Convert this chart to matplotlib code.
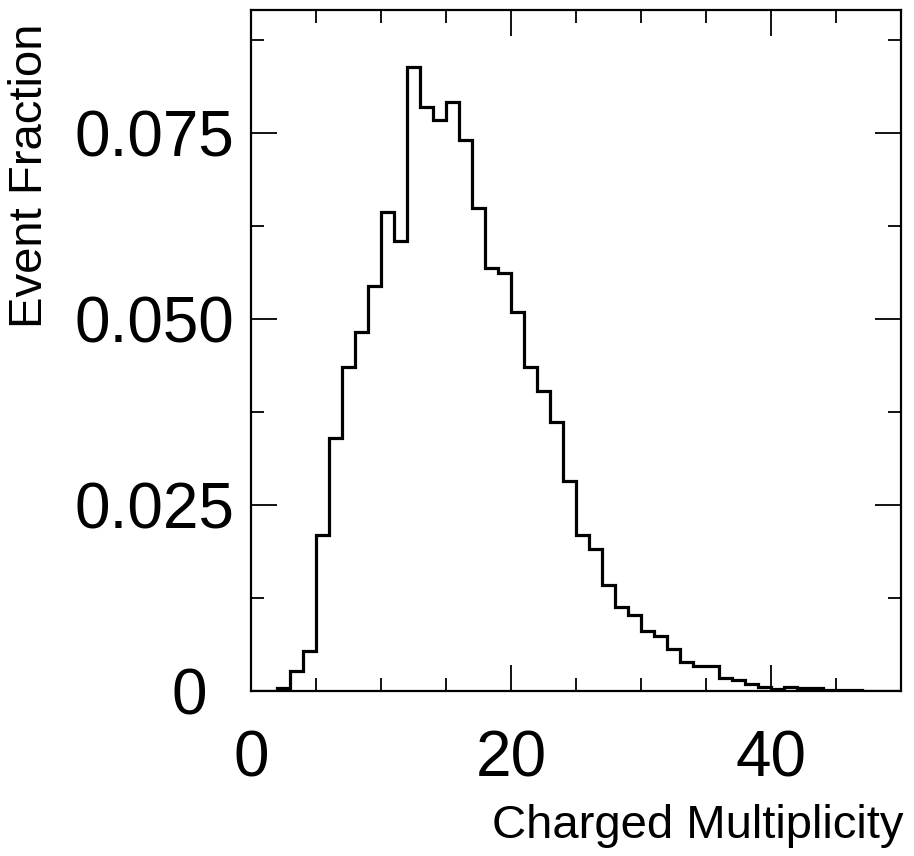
import numpy as np
import matplotlib.pyplot as plt
from matplotlib.ticker import MultipleLocator, FixedLocator
from matplotlib.transforms import ScaledTranslation

# bin edges 0..50, width 1
edges = np.arange(0, 51, 1)
fraction = [0.0, 0.0, 0.0004, 0.0027, 0.0054, 0.0210, 0.0340, 0.0436, 0.0482, 0.0544,
            0.0644, 0.0604, 0.0838, 0.0785, 0.0767, 0.0792, 0.0741, 0.0649, 0.0569, 0.0561,
            0.0509, 0.0436, 0.0403, 0.0361, 0.0282, 0.0209, 0.0191, 0.0143, 0.0113, 0.0102,
            0.0080, 0.0074, 0.0056, 0.0039, 0.0034, 0.0033, 0.0018, 0.0015, 0.0009, 0.0006,
            0.0003, 0.0006, 0.0004, 0.0004, 0.0002, 0.0002, 0.0002, 0.0, 0.0, 0.0]

x_major = [0, 20, 40]
x_major_labels = ['0', '20', '40']
y_major = [0, 0.025, 0.050, 0.075]
y_major_labels = ['0', '0.025', '0.050', '0.075']

plt.rcParams['font.family'] = ['Liberation Sans', 'DejaVu Sans']

fig = plt.figure(figsize=(9.14, 8.56), dpi=100)
ax = fig.add_axes([251 / 914, 1 - 691 / 856, 650 / 914, 681 / 856])

ax.stairs(fraction, edges, color='black', linewidth=2.3, baseline=0)

ax.set_xlim(0, 50)
ax.set_ylim(0, 0.0915)

ax.xaxis.set_major_locator(FixedLocator(x_major))
ax.set_xticklabels(x_major_labels)
ax.xaxis.set_minor_locator(MultipleLocator(5))
ax.yaxis.set_major_locator(FixedLocator(y_major))
ax.set_yticklabels(y_major_labels)
ax.yaxis.set_minor_locator(MultipleLocator(0.0125))

ax.tick_params(which='both', direction='in', top=True, right=True, width=1.3)
ax.tick_params(which='major', length=19, labelsize=46)
ax.tick_params(which='minor', length=9.5)
ax.tick_params(axis='y', which='major', pad=12)
ax.tick_params(axis='x', which='major', pad=28)

# the zero on the y axis sits further left in the original
zero_lab = ax.get_yticklabels()[0]
zero_lab.set_transform(zero_lab.get_transform() + ScaledTranslation(-0.27, 0, fig.dpi_scale_trans))

for s in ax.spines.values():
    s.set_linewidth(1.6)

fig.text(30 / 914, 1 - 24 / 856, 'Event Fraction', rotation=90, ha='center', va='top', fontsize=34)
fig.text(903 / 914, 1 - 838 / 856, 'Charged Multiplicity', ha='right', va='baseline', fontsize=34)

fig.savefig('out.png', dpi=100)
